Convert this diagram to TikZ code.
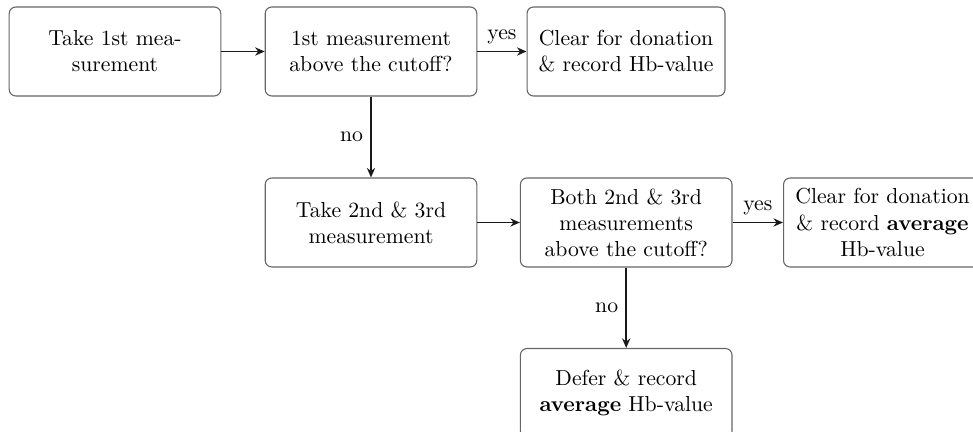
\documentclass[tikz,border=0pt]{standalone}
\usetikzlibrary{arrows.meta}

\tikzset{
  box/.style={draw=black!60, line width=0.5pt, rounded corners=3pt,
    align=center, inner sep=0pt, minimum width=97.5pt, minimum height=41pt},
  narrowbox/.style={box, minimum width=91.2pt},
  arr/.style={draw=black!90, line width=0.75pt, -{Stealth[length=4.4pt,width=3.8pt]}},
}

\begin{document}
\begin{tikzpicture}[x=0.4608pt, y=-0.4608pt]
  \useasboundingbox (0,0) rectangle (973,432);
  \clip (0,0) rectangle (973,432);

  % first measurement row
  \node[box] (n1) at (115,51.5) {Take 1st mea-\\surement};
  \node[box] (n2) at (371,51.5) {1st measurement\\above the cutoff?};
  \node[narrowbox] (n3) at (626,51.5) {Clear for donation\\\& record Hb-value};

  % second and third measurements
  \node[box] (n4) at (371,222.5) {Take 2nd \& 3rd\\measurement};
  \node[box] (n5) at (626.2,222.5) {Both 2nd \& 3rd\\measurements\\above the cutoff?};
  \node[narrowbox] (n6) at (882.5,222.5) {Clear for donation\\\& record \textbf{average}\\Hb-value};
  \node[box] (n7) at (626.2,393) {Defer \& record\\\textbf{average} Hb-value};

  % connectors
  \draw[arr] (n1) -- (n2);
  \draw[arr] (n2) -- node[above] {yes} (n3);
  \draw[arr] (n2) -- node[left] {no} (n4);
  \draw[arr] (n4) -- (n5);
  \draw[arr] (n5) -- node[above] {yes} (n6);
  \draw[arr] (n5) -- node[left] {no} (n7);
\end{tikzpicture}
\end{document}
